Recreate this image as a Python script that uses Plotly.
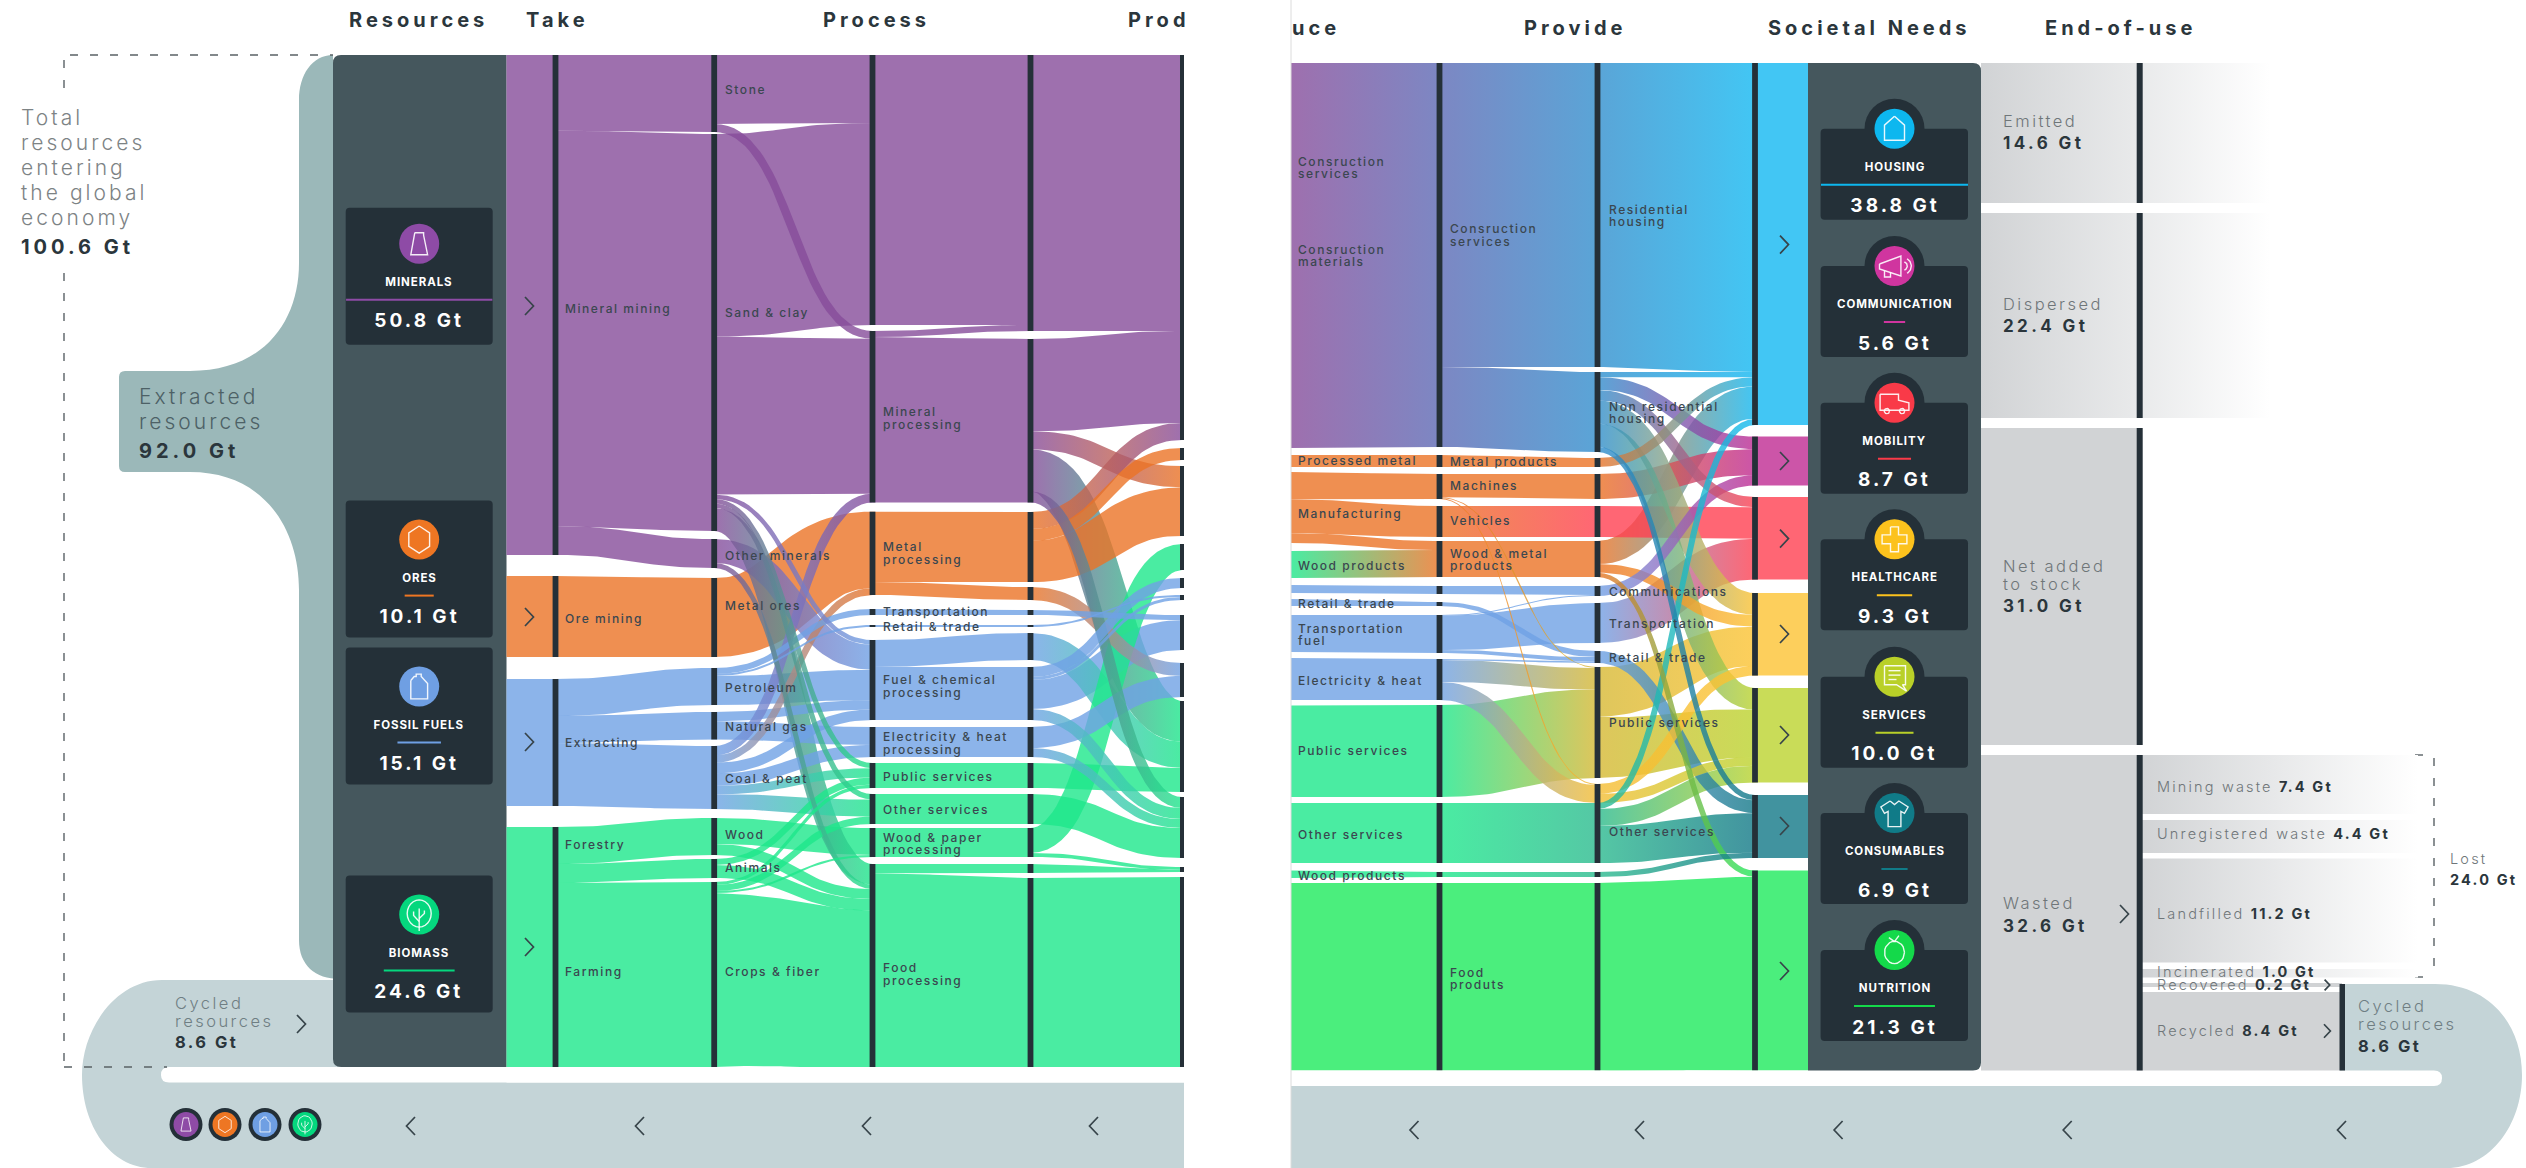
import math
import plotly.graph_objects as go

# ---------- DATA (Gt) ----------
resource_names = ["MINERALS", "ORES", "FOSSIL FUELS", "BIOMASS"]
resource_values = [50.8, 10.1, 15.1, 24.6]
need_names = ["HOUSING", "COMMUNICATION", "MOBILITY", "HEALTHCARE", "SERVICES", "CONSUMABLES", "NUTRITION"]
need_values = [38.8, 5.6, 8.7, 9.3, 10.0, 6.9, 21.3]

flows_resources = [("R_M", "A_MM", 50.0), ("R_O", "A_OM", 8.1), ("R_F", "A_EX", 12.7), ("R_B", "A_BI", 24.0)]
flows_take = [("A_MM", "B_Stone", 7.6), ("A_MM", "B_Sand", 39.6), ("A_MM", "B_Other", 2.9), ("A_OM", "B_Metal", 7.9),
              ("A_EX", "B_Petro", 3.7), ("A_EX", "B_Gas", 2.7), ("A_EX", "B_Coal", 6.3),
              ("A_BI", "B_Wood", 3.7), ("A_BI", "B_Anim", 1.9), ("A_BI", "B_Crops", 18.4)]
flows_process = [("B_Stone", "C_CM", 6.8), ("B_Stone", "C_MP", 0.8),
                 ("B_Sand", "C_CM", 20.2), ("B_Sand", "C_MP", 15.75), ("B_Sand", "C_Fuel", 0.45), ("B_Sand", "C_Pub", 0.45), ("B_Sand", "C_Oth", 0.45), ("B_Sand", "C_Food", 2.3),
                 ("B_Other", "C_Fuel", 2.4), ("B_Other", "C_Food", 0.5),
                 ("B_Metal", "C_Metal", 7.9),
                 ("B_Petro", "C_Trans", 0.6), ("B_Petro", "C_Ret", 0.2), ("B_Petro", "C_Fuel", 2.9),
                 ("B_Gas", "C_Fuel", 0.9), ("B_Gas", "C_Elec", 1.8),
                 ("B_Coal", "C_MP", 0.9), ("B_Coal", "C_Metal", 0.7), ("B_Coal", "C_Fuel", 1.0), ("B_Coal", "C_Elec", 1.2), ("B_Coal", "C_Pub", 0.8), ("B_Coal", "C_Oth", 1.4),
                 ("B_Wood", "C_WP", 2.6), ("B_Wood", "C_Food", 1.1),
                 ("B_Anim", "C_Pub", 0.6), ("B_Anim", "C_Food", 1.3),
                 ("B_Crops", "C_Pub", 0.3), ("B_Crops", "C_Oth", 0.6), ("B_Crops", "C_WP", 0.2), ("B_Crops", "C_Food", 17.4)]
flows_process2 = [("C_CM", "D_1", 27.0), ("C_MP", "D_1", 0.6), ("C_MP", "D_2", 16.4), ("C_Metal", "D_M1", 7.0), ("C_Metal", "D_M2", 1.3),
                  ("C_Trans", "D_Tr", 0.6), ("C_Ret", "D_Rt", 0.2), ("C_Fuel", "D_F1", 2.7), ("C_Fuel", "D_F2", 5.3), ("C_Elec", "D_El", 3.0),
                  ("C_Pub", "D_Pub", 2.5), ("C_Oth", "D_Oth", 3.0), ("C_WP", "D_WP", 2.9), ("C_Food", "D_F3", 0.9), ("C_Food", "D_Food", 19.0)]
flows_produce = [("D_1", "E_CON", 27.6), ("D_2", "E_CON", 9.2), ("D_2", "E_MF", 1.8), ("D_2", "E_PS", 4.2), ("D_2", "E_OS", 1.1),
                 ("D_M1", "E_CON", 1.7), ("D_M1", "E_PM", 1.2), ("D_M1", "E_MF", 4.1), ("D_M2", "E_EH", 1.3),
                 ("D_Tr", "E_TF", 0.5), ("D_Rt", "E_RT", 0.2), ("D_F1", "E_PS", 2.7),
                 ("D_F2", "E_B", 1.0), ("D_F2", "E_RT", 0.3), ("D_F2", "E_TF", 2.9), ("D_F2", "E_OS", 1.1),
                 ("D_El", "E_EH", 2.1), ("D_El", "E_OS", 0.9), ("D_Pub", "E_PS", 2.5), ("D_Oth", "E_OS", 3.0),
                 ("D_WP", "E_WD", 2.5), ("D_WP", "E_W2", 0.4), ("D_F3", "E_W2", 0.3), ("D_Food", "E_F", 19.0)]
flows_produce2 = [("RA_CS", "RB_CS", 38.4), ("RA_PM", "RB_MP", 1.2), ("RA_MF", "RB_MA", 2.5), ("RA_MF", "RB_VE", 3.1), ("RA_MF", "RB_WM", 0.9),
                  ("RA_WD", "RB_WM", 2.7), ("RA_B", "RB_B", 0.8), ("RA_RT", "RB_RT", 0.6), ("RA_TF", "RB_TF", 3.8), ("RA_EH", "RB_EH", 4.1),
                  ("RA_PS", "RB_PS", 9.2), ("RA_OS", "RB_OS", 6.0), ("RA_W2", "RB_W2", 0.5), ("RA_FD", "RB_FD", 18.8)]
flows_provide = [("RB_CS", "RC_RH", 30.4), ("RB_CS", "RC_NR", 8.0), ("RB_MP", "RC_MP", 1.0), ("RB_MA", "RC_MA", 2.5), ("RB_MA", "RC_PS", 0.1), ("RB_MA", "RC_PS2", 0.1),
                 ("RB_VE", "RC_VE", 3.1), ("RB_WM", "RC_WM", 3.6), ("RB_B", "RC_CO", 0.8), ("RB_RT", "RC_RT", 0.4),
                 ("RB_TF", "RC_CO", 0.1), ("RB_TF", "RC_TR", 3.4), ("RB_TF", "RC_RT", 0.3),
                 ("RB_EH", "RC_RT", 0.1), ("RB_EH", "RC_PS", 2.2), ("RB_EH", "RC_PS2", 1.8), ("RB_PS", "RC_PS", 9.0),
                 ("RB_OS", "RC_OS", 6.0), ("RB_W2", "RC_WP", 0.5), ("RB_FD", "RC_FD", 18.8)]
flows_needs = [("RC_RH", "D_Hou", 30.4), ("RC_NR", "D_Hou", 0.5), ("RC_MP", "D_Hou", 0.9), ("RC_WM", "D_Hou", 3.2), ("RC_OS", "D_Hou", 0.6),
               ("RC_NR", "D_Com", 1.2), ("RC_MA", "D_Com", 2.5), ("RC_CO", "D_Com", 1.0),
               ("RC_NR", "D_Mob", 1.0), ("RC_VE", "D_Mob", 3.1), ("RC_TR", "D_Mob", 4.0),
               ("RC_NR", "D_Hea", 2.2), ("RC_WM", "D_Hea", 1.2), ("RC_PS", "D_Hea", 3.9), ("RC_PS2", "D_Hea", 1.0),
               ("RC_NR", "D_Ser", 2.2), ("RC_PS", "D_Ser", 4.8), ("RC_PS2", "D_Ser", 0.9), ("RC_OS", "D_Ser", 1.7),
               ("RC_NR", "D_Con", 0.5), ("RC_RT", "D_Con", 1.2), ("RC_OS", "D_Con", 3.7), ("RC_WP", "D_Con", 0.5),
               ("RC_WM", "D_Nut", 0.6), ("RC_FD", "D_Nut", 18.8)]
flows_out = [("D_Hou", "O_Hou", 38.8), ("D_Com", "O_Com", 5.6), ("D_Mob", "O_Mob", 8.7), ("D_Hea", "O_Hea", 9.3),
             ("D_Ser", "O_Ser", 10.0), ("D_Con", "O_Con", 6.9), ("D_Nut", "O_Nut", 21.3)]

# ---------- LAYOUT AND STYLE ----------
P, O, B, G, G2 = "#864c9a", "#eb7325", "#6fa1e5", "#1de78b", "#1eea5c"
HOU, COM, MOB, HEA, SER, CON = "#13b8f1", "#bf2a92", "#ff4051", "#fcc333", "#bbd32e", "#127887"
DARK, PANEL, CHIP = "#253038", "#45575d", "#243038"
nodes = {}
def col(x, bar, rows):
    for name, top, bot, c in rows:
        nodes[name] = dict(x=x, top=top, bot=bot, c=c, bar=bar)
col(506.5, False, [("R_M", 55, 555, P), ("R_O", 576, 657, O), ("R_F", 679, 806, B), ("R_B", 827, 1067, G)])
col(555.5, True, [("A_MM", 55, 555, P), ("A_OM", 576, 657, O), ("A_EX", 679, 806, B), ("A_BI", 827, 1067, G)])
col(714.2, True, [("B_Stone", 55, 132, P), ("B_Sand", 134, 531, P), ("B_Other", 539, 568, P), ("B_Metal", 578, 657, O),
                  ("B_Petro", 668, 705, B), ("B_Gas", 712, 739.5, B), ("B_Coal", 746, 809, B), ("B_Wood", 818, 855, G),
                  ("B_Anim", 859, 878, G), ("B_Crops", 882, 1067, G)])
col(872.5, True, [("C_CM", 55, 325, P), ("C_MP", 331, 502.5, P), ("C_Metal", 511.7, 595, O), ("C_Trans", 609, 615, B), ("C_Ret", 625, 627, B),
                  ("C_Fuel", 640, 720, B), ("C_Elec", 727, 757, B), ("C_Pub", 763, 788, G), ("C_Oth", 794, 824, G), ("C_WP", 828, 857, G), ("C_Food", 864, 1067, G)])
col(1030.5, True, [("D_1", 55, 331, P), ("D_2", 339, 502.5, P), ("D_M1", 512, 582, O), ("D_M2", 587, 600, O), ("D_Tr", 610, 615, B), ("D_Rt", 625, 627, B),
                   ("D_F1", 633, 660, B), ("D_F2", 667, 720, B), ("D_El", 727, 757, B), ("D_Pub", 763, 788, G), ("D_Oth", 794, 824, G), ("D_WP", 828, 857, G),
                   ("D_F3", 864, 873, G), ("D_Food", 878, 1067, G)])
col(1182, True, [("E_CON", 55, 440, P), ("E_PM", 448, 460, O), ("E_MF", 466, 536, O), ("E_WD", 544, 570, G), ("E_B", 578, 588, B), ("E_RT", 595, 600, B),
                 ("E_TF", 615, 650, B), ("E_EH", 663, 697, B), ("E_PS", 701, 792, G), ("E_OS", 797, 858, G), ("E_W2", 867, 872, G), ("E_F", 877, 1067, G)])
col(1291, False, [("RA_CS", 63, 448, P), ("RA_PM", 455, 467, O), ("RA_MF", 472, 543, O), ("RA_WD", 551, 578, G), ("RA_B", 585, 593, B), ("RA_RT", 599, 606, B),
                  ("RA_TF", 615, 652, B), ("RA_EH", 658, 700, B), ("RA_PS", 705.6, 797, G), ("RA_OS", 803, 863, G), ("RA_W2", 870.6, 878, G), ("RA_FD", 883, 1070.5, G2)])
col(1439.5, True, [("RB_CS", 63, 447, "#5c69b4"), ("RB_MP", 455, 467, O), ("RB_MA", 474, 499, O), ("RB_VE", 506, 537, O), ("RB_WM", 541, 577, O), ("RB_B", 586, 594, B),
                   ("RB_RT", 602, 606, B), ("RB_TF", 615, 653, B), ("RB_EH", 659, 700, B), ("RB_PS", 705, 797, G), ("RB_OS", 803, 863, G), ("RB_W2", 872, 877, G), ("RB_FD", 883, 1070.5, G2)])
col(1597.5, True, [("RC_RH", 63, 367, "#318ecd"), ("RC_NR", 372, 452, "#318ecd"), ("RC_MP", 458, 467, O), ("RC_MA", 474, 499, O), ("RC_VE", 506, 537, MOB), ("RC_WM", 541, 577, O),
                   ("RC_CO", 586, 596, B), ("RC_TR", 603, 643, B), ("RC_RT", 651, 663, B), ("RC_PS", 667, 778, "#d6b833"), ("RC_PS2", 784, 803, "#f4bd33"),
                   ("RC_OS", 803, 863, "#2aba8e"), ("RC_WP", 872, 877, "#2aba8e"), ("RC_FD", 883, 1070.5, G2)])
col(1755, True, [("D_Hou", 63, 425, HOU), ("D_Com", 436.6, 485.5, COM), ("D_Mob", 497, 579.6, MOB), ("D_Hea", 593, 675.6, HEA), ("D_Ser", 688, 782.5, SER),
                 ("D_Con", 795, 858, CON), ("D_Nut", 870.6, 1070.5, G2)])
col(1808, False, [("O_Hou", 63, 425, HOU), ("O_Com", 436.6, 485.5, COM), ("O_Mob", 497, 579.6, MOB), ("O_Hea", 593, 675.6, HEA), ("O_Ser", 688, 782.5, SER),
                  ("O_Con", 795, 858, CON), ("O_Nut", 870.6, 1070.5, G2)])

def ribbon(x0, y0, t0, x1, y1, t1, n=36):
    mx = (x0 + x1) / 2
    upper, lower = [], []
    for i in range(n + 1):
        s = i / n
        u = 1 - s
        x = u**3 * x0 + 3 * u * u * s * mx + 3 * u * s * s * mx + s**3 * x1
        y = u**3 * y0 + 3 * u * u * s * y0 + 3 * u * s * s * y1 + s**3 * y1
        dx = 3 * u * u * (mx - x0) + 3 * s * s * (x1 - mx)
        dy = 6 * u * s * (y1 - y0)
        ln = math.hypot(dx, dy) or 1
        h = (t0 * u + t1 * s) / 2
        upper.append((x + dy / ln * h, y - dx / ln * h))
        lower.append((x - dy / ln * h, y + dx / ln * h))
    pts = upper + lower[::-1] + [upper[0]]
    return [p[0] for p in pts], [p[1] for p in pts]

def mid(n):
    return (nodes[n]["top"] + nodes[n]["bot"]) / 2

fig = go.Figure()
shapes = []

for stage in [flows_resources, flows_take, flows_process, flows_process2, flows_produce,
              flows_produce2, flows_provide, flows_needs, flows_out]:
    src_pos, tgt_pos = {}, {}
    for s in {f[0] for f in stage}:
        out = sorted([f for f in stage if f[0] == s], key=lambda f: mid(f[1]))
        k = (nodes[s]["bot"] - nodes[s]["top"]) / sum(f[2] for f in out)
        y = nodes[s]["top"]
        for f in out:
            src_pos[(f[0], f[1])] = (y + f[2] * k / 2, f[2] * k)
            y += f[2] * k
    for t in {f[1] for f in stage}:
        inc = sorted([f for f in stage if f[1] == t], key=lambda f: mid(f[0]))
        k = (nodes[t]["bot"] - nodes[t]["top"]) / sum(f[2] for f in inc)
        y = nodes[t]["top"]
        for f in inc:
            tgt_pos[(f[0], f[1])] = (y + f[2] * k / 2, f[2] * k)
            y += f[2] * k
    for f in sorted(stage, key=lambda f: -f[2]):
        a, b = nodes[f[0]], nodes[f[1]]
        ys, ts = src_pos[(f[0], f[1])]
        yt, tt = tgt_pos[(f[0], f[1])]
        xs, yy = ribbon(a["x"], ys, ts, b["x"], yt, tt)
        kw = dict(x=xs, y=yy, mode="lines", line=dict(width=0), fill="toself", opacity=0.8,
                  hoverinfo="skip", showlegend=False)
        if a["c"] == b["c"]:
            kw["fillcolor"] = a["c"]
        else:
            kw["fillgradient"] = dict(type="horizontal", colorscale=[[0, a["c"]], [1, b["c"]]],
                                      start=a["x"], stop=b["x"])
        fig.add_trace(go.Scatter(**kw))

# End-of-use
eou_left = [("Emitted", 14.6), ("Dispersed", 22.4), ("Net added to stock", 31.0), ("Wasted", 32.6)]
eou_lost = [("Mining waste", 7.4), ("Unregistered waste", 4.4), ("Landfilled", 11.2), ("Incinerated", 1.0)]
eou_cycled = [("Recovered", 0.2), ("Recycled", 8.4)]
cycled_total, lost_total, extracted_total, entering_total = 8.6, 24.0, 92.0, 100.6
L0, L1, L2 = "#d1d3d5", "#e9eaeb", "#ffffff"
def block(x0, x1, y0, y1, c0, c1):
    kw = dict(x=[x0, x1, x1, x0, x0], y=[y0, y0, y1, y1, y0], mode="lines", line=dict(width=0), fill="toself",
              hoverinfo="skip", showlegend=False)
    if c0 == c1:
        kw["fillcolor"] = c0
    else:
        kw["fillgradient"] = dict(type="horizontal", colorscale=[[0, c0], [1, c1]], start=x0, stop=x1)
    fig.add_trace(go.Scatter(**kw))
eou_spans = [(63, 203), (213, 418), (428, 745), (755, 1070.5)]
for i, (t, b) in enumerate(eou_spans):
    block(1981, 2139, t, b, L0, L1 if i < 2 else L0)
    if i < 2:
        block(2139, 2270, t, b, L1, L2)
for t, b in [(755, 814), (820, 853), (858.6, 962.5), (969, 977.5)]:
    block(2139, 2418, t, b, L0, L2)
block(2139, 2342, 983, 987, L0, L0)
block(2139, 2342, 992, 1070.5, L0, L0)

def rect(x0, y0, x1, y1, c, layer="below"):
    shapes.append(dict(type="rect", x0=x0, y0=y0, x1=x1, y1=y1, fillcolor=c, line_width=0, layer=layer))
def path(d, c, layer="below"):
    shapes.append(dict(type="path", path=d, fillcolor=c, line_width=0, layer=layer))
def dash(x0, y0, x1, y1):
    shapes.append(dict(type="line", x0=x0, y0=y0, x1=x1, y1=y1, line=dict(color="#5a6266", width=1.4, dash="8px,12px"), layer="below"))
def circle(cx, cy, r, c, layer="below"):
    shapes.append(dict(type="circle", x0=cx - r, y0=cy - r, x1=cx + r, y1=cy + r, fillcolor=c, line_width=0, layer=layer))

# backgrounds
path("M 333 55 C 312 55 299 75 299 100 L 299 263 C 299 320 265 371 190 371 L 125 371 Q 119 371 119 377 L 119 466 Q 119 472 125 472 "
     "L 190 472 C 265 472 299 530 299 590 L 299 940 C 299 965 315 979 340 979 Z", "#9bb8b9")
path("M 340 980 L 162 980 C 115 980 82 1030 82 1075 C 82 1125 110 1168 152 1168 L 1184 1168 L 1184 1082 L 340 1082 Z", "#c4d4d7")
path("M 1184 1067 L 169 1067 Q 161 1067 161 1075 Q 161 1082.5 169 1082.5 L 1184 1082.5 Z", "#ffffff")
path("M 1291 1168 L 2447 1168 C 2490 1168 2522 1125 2522 1075 C 2522 1025 2490 984 2435 984 L 2340 984 L 2340 1086 L 1291 1086 Z", "#c4d4d7")
path("M 1291 1070.5 L 2434 1070.5 Q 2442 1070.5 2442 1078 Q 2442 1086 2434 1086 L 1291 1086 Z", "#ffffff")
path("M 506.5 55 L 341 55 Q 333 55 333 63 L 333 1059 Q 333 1067 341 1067 L 506.5 1067 Z", PANEL)
path("M 1808 63 L 1973 63 Q 1981 63 1981 71 L 1981 1062.5 Q 1981 1070.5 1973 1070.5 L 1808 1070.5 Z", PANEL)
dash(70, 55, 333, 55); dash(64, 60, 64, 100); dash(64, 273, 64, 1064); dash(64, 1067, 167, 1067)
dash(2434, 758, 2434, 977); dash(2415, 755, 2434, 755); dash(2415, 977, 2434, 977)

# separating bars
for name, n in nodes.items():
    if n["bar"]:
        w = 2.9 if n["x"] != 1182 else 2
        rect(n["x"] - w, n["top"], n["x"] + w, n["bot"], DARK, "above")
for t, b in eou_spans:
    rect(2136.7, t, 2142.7, b, DARK, "above")
rect(2339.5, 984, 2345, 1070.5, DARK, "above")
rect(1184, 0, 1291, 1168, "#ffffff", "above")
# trims: keep wide curved ribbons inside the frame of each panel
rect(506.5, 30, 1184, 55, "#ffffff", "above"); rect(506.5, 1067, 1184, 1082.5, "#ffffff", "above")
rect(1291, 40, 1808, 63, "#ffffff", "above"); rect(1291, 1070.5, 1808, 1086, "#ffffff", "above")
shapes.append(dict(type="line", x0=1291, y0=0, x1=1291, y1=1168, line=dict(color="#dcdcdc", width=1), layer="above"))

# text
FONT = "Inter"
def T(x, y, s, size=12, color="#37434b", anchor="left", weight=400):
    fig.add_annotation(x=x, y=y, text=s, showarrow=False, xanchor=anchor, yanchor="middle", xref="x", yref="y", borderpad=0,
                       font=dict(family=FONT, size=size, color=color, weight=weight), align=anchor)
def icon(cx, cy, segs):
    xs, ys = [], []
    for seg in segs:
        for px, py in seg:
            xs.append(cx + px * 20); ys.append(cy + py * 20)
        xs.append(None); ys.append(None)
    fig.add_trace(go.Scatter(x=xs, y=ys, mode="lines", line=dict(color="rgba(255,255,255,0.9)", width=1.4), hoverinfo="skip", showlegend=False))
def arc(cx, cy, r, a0=0, a1=360, ry=None):
    ry = ry or r
    return [(cx + r * math.cos(math.radians(a0 + (a1 - a0) * i / 24)), cy + ry * math.sin(math.radians(a0 + (a1 - a0) * i / 24))) for i in range(25)]
beaker = [[(-.22, -.55), (.22, -.55), (.22, -.42), (.42, .55), (-.42, .55), (-.22, -.42), (-.22, -.55)]]
hexa = [[(math.sin(math.radians(a)) * .6, -math.cos(math.radians(a)) * .68) for a in range(0, 361, 60)]]
jug = [[(-.42, -.3), (-.25, -.5), (-.15, -.5), (-.15, -.62), (.1, -.62), (.1, -.5), (.42, -.15), (.42, .62), (-.42, .62), (-.42, -.3)]]
tree = [arc(0, -.05, .6, ry=.68), [(0, .82), (0, -.3)], [(0, .35), (-.28, .05), (-.28, -.15)], [(0, .2), (.26, -.05), (.26, -.2)]]
house = [[(0, -.62), (.5, -.18), (.5, .58), (-.5, .58), (-.5, -.18), (0, -.62)]]
mega = [[(-.75, -.1), (.32, -.5), (.32, .5), (-.75, .15), (-.75, -.1)], [(-.5, .22), (-.5, .55), (-.2, .55), (-.2, .3)], arc(.42, 0, .22, -70, 70), arc(.42, 0, .42, -60, 60)]
van = [[(-.72, -.42), (.2, -.42), (.2, -.12), (.72, .0), (.72, .38), (-.72, .38), (-.72, -.42)], arc(-.38, .42, .13), arc(.38, .42, .13)]
cross = [[(-.2, -.62), (.2, -.62), (.2, -.22), (.62, -.22), (.62, .22), (.2, .22), (.2, .62), (-.2, .62), (-.2, .22), (-.62, .22), (-.62, -.22), (-.2, -.22), (-.2, -.62)]]
bubble = [[(-.5, -.55), (.55, -.55), (.55, .4), (.4, .4), (.6, .72), (.1, .4), (-.5, .4), (-.5, -.55)], [(-.3, -.3), (.3, -.3)], [(-.3, -.08), (.3, -.08)], [(-.3, .14), (.1, .14)]]
shirt = [[(-.22, -.6), (0, -.42), (.22, -.6), (.68, -.3), (.5, .02), (.32, -.08), (.32, .68), (-.32, .68), (-.32, -.08), (-.5, .02), (-.68, -.3), (-.22, -.6)]]
apple = [arc(0, .12, .5, ry=.56), [(0, -.42), (.22, -.72)], [(-.28, -.62), (0, -.42)]]
res_icons = [beaker, hexa, jug, tree]
need_icons = [house, mega, van, cross, bubble, shirt, apple]
res_cols = ["#8e4ba6", "#ee7623", "#6f9fe3", "#05d77e"]
need_cols = ["#0db7ef", "#d0359f", "#f93a48", "#fcc21d", "#b9d028", "#107b88", "#14d94a"]
LW = "#ffffff"

# resource chips
res_tops = [207.7, 500.6, 647.5, 875.5]
for i, (name, v, top, c, ic) in enumerate(zip(resource_names, resource_values, res_tops, res_cols, res_icons)):
    h = 137
    off = 0 if i == 0 else 3
    path(f"M 349.7 {top} L 488.7 {top} Q 492.7 {top} 492.7 {top+4} L 492.7 {top+h-4} Q 492.7 {top+h} 488.7 {top+h} L 349.7 {top+h} Q 345.7 {top+h} 345.7 {top+h-4} L 345.7 {top+4} Q 345.7 {top} 349.7 {top} Z", CHIP)
    circle(419.2, top + 36 + off, 20, c)
    icon(419.2, top + 36 + off, ic)
    T(419.2, top + 74 + off, name, 11.5, LW, "center", 700)
    w = min(147, v * 2.88)
    rect(419.2 - w / 2, top + 91 + off, 419.2 + w / 2, top + 93 + off, c)
    T(419.2, top + 113 + off, f"{v} Gt", 19, LW, "center", 700)

# need chips
need_tops = [128.7, 266, 402.7, 539.3, 676.7, 813, 950]
for name, v, top, c, ic in zip(need_names, need_values, need_tops, need_cols, need_icons):
    h = 91
    circle(1894.5, top, 30, CHIP)
    path(f"M 1824.6 {top} L 1964 {top} Q 1968 {top} 1968 {top+4} L 1968 {top+h-4} Q 1968 {top+h} 1964 {top+h} L 1824.6 {top+h} Q 1820.6 {top+h} 1820.6 {top+h-4} L 1820.6 {top+4} Q 1820.6 {top} 1824.6 {top} Z", CHIP)
    circle(1894.5, top, 20, c)
    icon(1894.5, top, ic)
    T(1894.5, top + 38, name, 11.5, LW, "center", 700)
    w = min(147, v * 3.8)
    rect(1894.5 - w / 2, top + 55, 1894.5 + w / 2, top + 57, c)
    T(1894.5, top + 77, f"{v} Gt", 19, LW, "center", 700)

# titles
TC = "#2b363c"
T(348, 20, "Resources", 20, TC, weight=700); T(525, 20, "Take", 20, TC, weight=700); T(822, 20, "Process", 20, TC, weight=700)
T(1127, 20, "Prod", 20, TC, weight=700); T(1291, 28, "uce", 20, TC, weight=700); T(1522.6, 28, "Provide", 20, TC, weight=700)
T(1767, 28, "Societal Needs", 20, TC, weight=700); T(2044, 28, "End-of-use", 20, TC, weight=700)

# flow labels
labels_take = [("Mineral mining", 308.6), ("Ore mining", 618.6), ("Extracting", 742), ("Forestry", 844), ("Farming", 971.5)]
labels_extract = [("Stone", 89.6), ("Sand & clay", 312.4), ("Other minerals", 555), ("Metal ores", 605), ("Petroleum", 687), ("Natural gas", 726),
                  ("Coal & peat", 778), ("Wood", 834), ("Animals", 867.6), ("Crops & fiber", 971.5)]
labels_process = [("Mineral", 411), ("processing", 424), ("Metal", 546.5), ("processing", 559), ("Transportation", 611), ("Retail & trade", 626),
                  ("Fuel & chemical", 679), ("processing", 692), ("Electricity & heat", 736), ("processing", 749), ("Public services", 776),
                  ("Other services", 809), ("Wood & paper", 837), ("processing", 849), ("Food", 967), ("processing", 980)]
labels_produce = [("Consruction", 161), ("services", 173.5), ("Consruction", 249), ("materials", 261), ("Processed metal", 460), ("Manufacturing", 513),
                  ("Wood products", 565), ("Retail & trade", 603), ("Transportation", 628), ("fuel", 640), ("Electricity & heat", 680),
                  ("Public services", 750.6), ("Other services", 834), ("Wood products", 875)]
labels_provide1 = [("Consruction", 228.5), ("services", 241), ("Metal products", 461.4), ("Machines", 485.5), ("Vehicles", 520.5),
                   ("Wood & metal", 553), ("products", 565), ("Food", 972), ("produts", 984)]
labels_provide2 = [("Residential", 209), ("housing", 221), ("Non residential", 406), ("housing", 418.5), ("Communications", 591), ("Transportation", 623.5),
                   ("Retail & trade", 657), ("Public services", 722.5), ("Other services", 831.6)]
for lx, group in [(563.7, labels_take), (724, labels_extract), (882, labels_process), (1297, labels_produce), (1449, labels_provide1), (1607.5, labels_provide2)]:
    for s, y in group:
        T(lx, y, s, 12, "#3b4750", weight=500)

GR = "#6f7679"; BK = "#2b363c"
for s, y in [("Total", 117), ("resources", 142), ("entering", 167.5), ("the global", 192), ("economy", 217)]:
    T(20, y, s, 21, "#7d8385", weight=300)
T(20, 246.5, f"{entering_total} Gt", 20, BK, weight=700)
T(138, 396.3, "Extracted", 21, "#4d6166", weight=300); T(138, 421.5, "resources", 21, "#4d6166", weight=300)
T(138, 451, f"{extracted_total:.1f} Gt", 20, BK, weight=700)
for x0, ys in [(173.5, (1003, 1020.6, 1042)), (2357, (1006, 1024, 1046))]:
    T(x0, ys[0], "Cycled", 16.5, "#6f7e83", weight=300); T(x0, ys[1], "resources", 16.5, "#6f7e83", weight=300)
    T(x0, ys[2], f"{cycled_total} Gt", 16.5, BK, weight=700)

T(2002, 121, eou_left[0][0], 16.5, GR, weight=300); T(2002, 143.4, f"{eou_left[0][1]} Gt", 17, BK, weight=700)
T(2002, 303.7, eou_left[1][0], 16.5, GR, weight=300); T(2002, 326, f"{eou_left[1][1]} Gt", 17, BK, weight=700)
T(2002, 566, "Net added", 16.5, GR, weight=300); T(2002, 584, "to stock", 16.5, GR, weight=300); T(2002, 606, f"{eou_left[2][1]:.1f} Gt", 17, BK, weight=700)
T(2002, 903, eou_left[3][0], 16.5, GR, weight=300); T(2002, 926, f"{eou_left[3][1]} Gt", 17, BK, weight=700)
for (s, v), y in zip(eou_lost + eou_cycled, [786, 833.5, 913.7, 971, 984, 1030]):
    T(2155.5, y, f'{s} <b><span style="color:{BK}">{v} Gt</span></b>', 14.5, GR, weight=300)
T(2449, 858, "Lost", 14.5, GR, weight=300); T(2449, 879, f"{lost_total} Gt", 14.5, BK, weight=700)

# chevrons
def chev(x, y, right=True, s=1.0, c="#37444a"):
    d = 1 if right else -1
    fig.add_trace(go.Scatter(x=[x - 4 * d * s, x + 4.5 * d * s, x - 4 * d * s], y=[y - 9 * s, y, y + 9 * s], mode="lines",
                             line=dict(color=c, width=1.7), hoverinfo="skip", showlegend=False))
for y in (306, 617, 742, 947):
    chev(529, y)
chev(301, 1024)
for y in (244.6, 461, 538.6, 634, 735, 826, 971):
    chev(1784, y)
chev(2124, 914); chev(2327, 985, s=.6); chev(2327, 1031, s=.75)
for x in (411, 640, 867, 1094):
    chev(x, 1126, False)
for x in (1414.5, 1640, 1838.6, 2067.7, 2342):
    chev(x, 1130, False)
for x, c, ic in zip((186, 225, 265, 305), res_cols, res_icons):
    circle(x, 1124.5, 16.5, CHIP)
    circle(x, 1124.5, 12.5, c)
    xs, ys = [], []
    for seg in ic:
        for px, py in seg:
            xs.append(x + px * 12); ys.append(1124.5 + py * 12)
        xs.append(None); ys.append(None)
    fig.add_trace(go.Scatter(x=xs, y=ys, mode="lines", line=dict(color="rgba(255,255,255,0.8)", width=1), hoverinfo="skip", showlegend=False))

fig.update_layout(width=2526, height=1168, margin=dict(l=0, r=0, t=0, b=0), paper_bgcolor="white", plot_bgcolor="white",
                  showlegend=False, shapes=shapes, dragmode=False,
                  xaxis=dict(range=[0, 2526], visible=False, fixedrange=True),
                  yaxis=dict(range=[1168, 0], visible=False, fixedrange=True))
post = ("document.body.style.margin='0';document.documentElement.style.overflow='hidden';"
        "var em={'20px':'.2em','19px':'.16em','21px':'.145em','17px':'.2em','16.5px':'.15em','14.5px':'.15em','11.5px':'.08em','12px':'.13em'};"
        "document.querySelectorAll('.annotation-text').forEach(function(t){t.style.letterSpacing=em[t.style.fontSize]||'.12em';});")
fig.write_html("out.html", post_script=post, config=dict(displayModeBar=False))
